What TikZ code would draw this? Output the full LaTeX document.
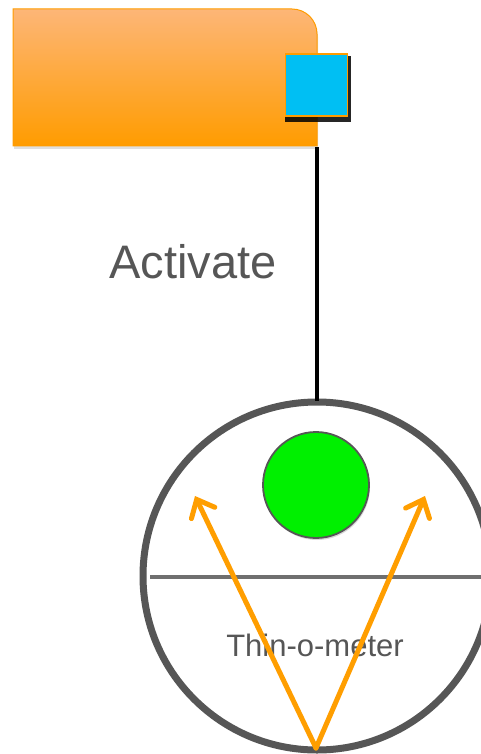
\documentclass[tikz,border=0pt]{standalone}
\usepackage{fontspec}
\setmainfont{Liberation Sans}
\usetikzlibrary{shadows,arrows.meta}
\definecolor{boxorange}{HTML}{FF9C00}
\definecolor{boxtop}{HTML}{FDB677}
\definecolor{portblue}{HTML}{00BFF3}
\definecolor{dialgray}{HTML}{565656}
\definecolor{ballgreen}{HTML}{00F000}
\definecolor{needle}{HTML}{FF9E00}
\tikzset{
  x=1pt, y=-1pt,
  block/.style={draw=boxorange, line width=1pt, top color=boxtop, bottom color=boxorange,
    drop shadow={shadow xshift=1pt, shadow yshift=-3pt, opacity=0.25}},
  port/.style={draw=boxorange, line width=1.8pt, fill=portblue,
    drop shadow={shadow xshift=1.5pt, shadow yshift=-4pt, shadow scale=1.06, fill=black, opacity=0.85}},
  link/.style={line width=4pt, black},
  dial/.style={draw=dialgray, line width=7pt, fill=white},
  ball/.style={circle, draw=dialgray, line width=1.8pt, fill=ballgreen,
    drop shadow={shadow xshift=1pt, shadow yshift=-2pt, opacity=0.3}},
  pointer/.style={needle, line width=5pt, line cap=round,
    -{Straight Barb[length=15pt, width=26pt, line cap=round]}},
  label/.style={text=dialgray, inner sep=0pt},
}
\begin{document}
\begin{tikzpicture}
\useasboundingbox (0,0) rectangle (481,754);
% activator block with its port
\path[block] (13,9) -- (292,9) arc[start angle=-90, end angle=0, radius=25] -- (317,146) -- (13,146) -- cycle;
\coordinate (blockbase) at (317,147);
\node[port, minimum width=62pt, minimum height=62pt, inner sep=0pt] (port) at (316.5,85) {};
% meter dial
\coordinate (dialtop) at (317,401);
\begin{scope}
  \clip (0,0) rectangle (481,754);
  \draw[dial] (317,576) circle[radius=174];
  \draw[dialgray!85, line width=4pt] (150,577) -- (481,577);
\end{scope}
\draw[link] (blockbase) -- (dialtop);
\node[label, font=\fontsize{47}{50}\selectfont] (activate) at (193,262) {Activate};
\node[ball, minimum size=106pt, inner sep=0] (ball) at (316,485) {};
\node[label, font=\fontsize{31}{34}\selectfont] (meterlabel) at (315,645) {Thin-o-meter};
\coordinate (pivot) at (316,748);
\coordinate (lefttip) at (195,496);
\coordinate (righttip) at (425,496);
\draw[pointer] (pivot) -- (lefttip);
\draw[pointer] (pivot) -- (righttip);
\end{tikzpicture}
\end{document}
